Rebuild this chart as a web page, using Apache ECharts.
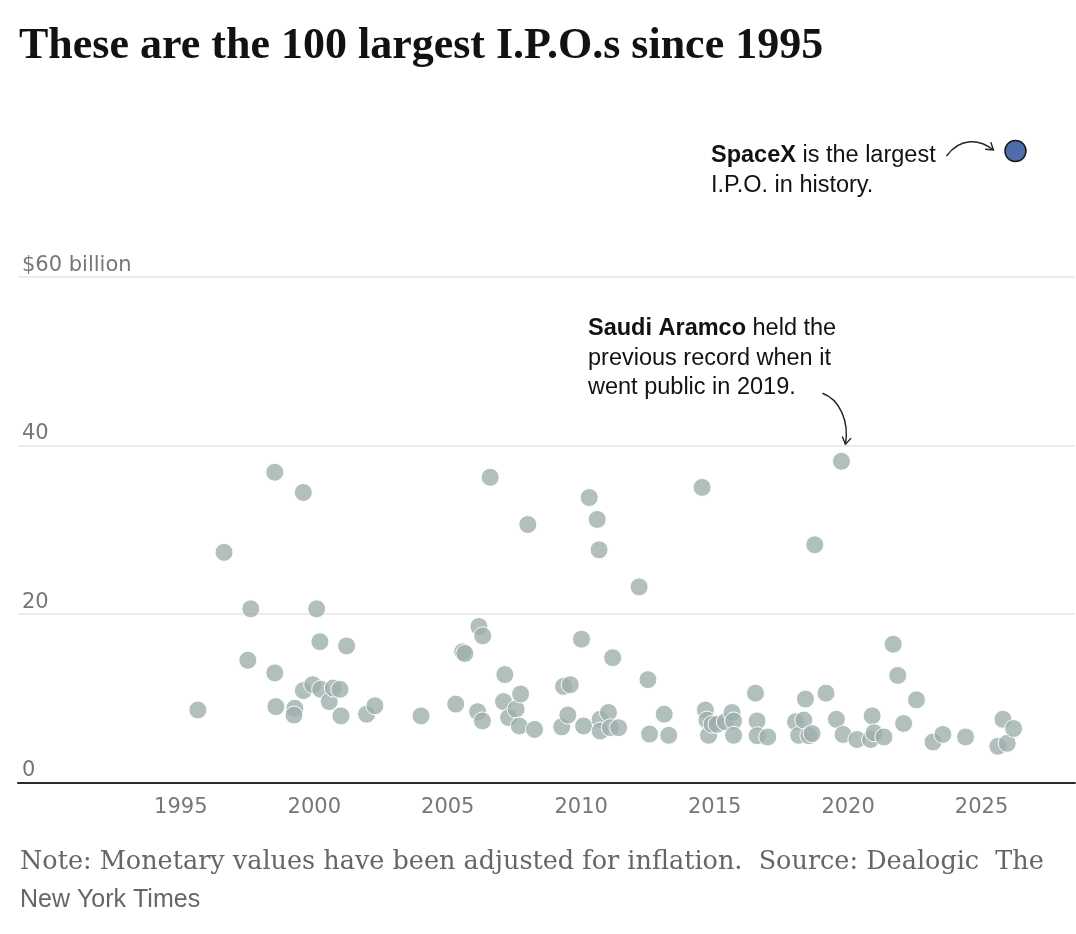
<!DOCTYPE html>
<html><head><meta charset="utf-8">
<script src="https://cdn.jsdelivr.net/npm/echarts@6/dist/echarts.min.js"></script>
<style>html,body{margin:0;padding:0;background:#fff}#c{width:1076px;height:934px}</style>
</head><body><div id="c"></div><script>
// IPO dates (fractional year) and size ($ billions, inflation adjusted)
const ipoYears = [
  1995.64,1996.62,1997.51,1997.62,1998.52,1998.52,1998.56,1999.27,1999.24,1999.59,
  1999.59,1999.94,2000.09,2000.21,2000.24,2000.56,2000.71,2000.96,2001.00,2001.21,
  2001.96,2002.27,2004.00,2005.30,2005.56,2005.64,2006.12,2006.17,2006.30,2006.31,
  2006.59,2007.09,2007.14,2007.28,2007.56,2007.68,2007.73,2008.00,2008.25,2009.27,
  2009.34,2009.50,2009.59,2010.01,2010.09,2010.30,2010.60,2010.67,2010.71,2010.71,
  2011.02,2011.09,2011.18,2011.40,2012.17,2012.50,2012.56,2013.11,2013.28,2014.53,
  2014.65,2014.71,2014.77,2014.90,2015.09,2015.40,2015.65,2015.71,2015.71,2016.53,
  2016.59,2016.59,2016.99,2018.03,2018.15,2018.34,2018.40,2018.53,2018.65,2018.75,
  2019.17,2019.56,2019.75,2019.81,2020.33,2020.84,2020.90,2020.97,2021.34,2021.69,
  2021.86,2022.08,2022.56,2023.18,2023.55,2024.40,2025.61,2025.80,2025.96,2026.20
];
const ipoValues = [
  8.6,27.3,14.5,20.6,36.8,13.0,9.0,8.8,8.0,34.4,
  10.9,11.6,20.6,16.7,11.05,9.6,11.2,11.05,7.9,16.2,
  8.1,9.1,7.9,9.3,15.5,15.3,8.4,18.5,7.3,17.4,
  36.2,9.6,12.8,7.7,8.7,6.7,10.5,30.6,6.3,6.6,
  11.4,8.0,11.6,17.0,6.7,33.8,31.2,27.6,7.5,6.1,
  8.3,6.5,14.8,6.5,23.2,12.2,5.75,8.1,5.6,35.0,
  8.6,7.4,5.6,6.9,6.9,7.2,8.3,7.3,5.6,10.6,
  7.3,5.55,5.4,7.2,5.6,7.4,9.9,5.55,5.8,28.2,
  10.6,7.5,38.1,5.7,5.1,5.1,7.9,5.9,5.4,16.4,
  12.7,7.0,9.8,4.8,5.7,5.4,4.3,7.5,4.65,6.4
];
const spacexYear = [2026.27];
const spacexValue = [74.9];
const aramcoYear = 2019.75, aramcoValue = 38.1;

const xTickValues = [1995, 2000, 2005, 2010, 2015, 2020, 2025];
const yTickValues = [0, 20, 40, 60];
const yTickLabels = ['0', '20', '40', '$60 billion'];

const titleText = 'These are the 100 largest I.P.O.s since 1995';
const noteLine1 = 'Note: Monetary values have been adjusted for inflation.  Source: Dealogic  The';
const noteLine2 = 'New York Times';
const spacexNote = '{b|SpaceX} is the largest\nI.P.O. in history.';
const aramcoNote = '{b|Saudi Aramco} held the\nprevious record when it\nwent public in 2019.';

const chart = echarts.init(document.getElementById('c'));
const sans = '"Liberation Sans", Arial, sans-serif';
const axisFont = '"DejaVu Sans", sans-serif';

chart.setOption({
  animation: false,
  grid: { left: 18, right: 1, top: 108, bottom: 151.5, containLabel: false },
  xAxis: {
    type: 'value', min: 1988.9, max: 2028.5,
    axisLine: { show: true, lineStyle: { color: '#2a2a2a', width: 2 } },
    axisTick: { show: false, customValues: xTickValues },
    splitLine: { show: false },
    axisLabel: {
      customValues: xTickValues, formatter: v => String(v),
      color: '#777', fontSize: 21, fontFamily: axisFont, margin: 15
    }
  },
  yAxis: {
    type: 'value', min: 0, max: 80,
    axisLine: { show: false },
    axisTick: { show: false, customValues: yTickValues },
    splitLine: { show: true, lineStyle: { color: '#e4e4e4', width: 1.5 } },
    axisLabel: {
      inside: true, margin: 4, verticalAlign: 'bottom', padding: [0, 0, 1, 0],
      customValues: yTickValues,
      formatter: v => yTickLabels[yTickValues.indexOf(v)],
      color: '#777', fontSize: 21, fontFamily: axisFont
    }
  },
  series: [
    {
      type: 'scatter', silent: true, symbolSize: 18,
      data: ipoYears.map((y, i) => [y, ipoValues[i]]),
      itemStyle: { color: 'rgba(158,175,172,0.8)', borderColor: 'rgba(255,255,255,0.95)', borderWidth: 1, opacity: 1 }
    },
    {
      type: 'scatter', silent: true, symbolSize: 21, z: 5,
      data: spacexYear.map((y, i) => [y, spacexValue[i]]),
      itemStyle: { color: '#4d6ea8', borderColor: '#1a1a1a', borderWidth: 1.5, opacity: 1 }
    }
  ]
});

function arrow(x1, y1, c1x, c1y, c2x, c2y, x2, y2) {
  const dx = x2 - c2x, dy = y2 - c2y, L = Math.hypot(dx, dy);
  const ux = dx / L, uy = dy / L, px = -uy, py = ux;
  const b = 7, w = 4.5;
  return [
    { type: 'bezierCurve', silent: true, shape: { x1, y1, x2, y2, cpx1: c1x, cpy1: c1y, cpx2: c2x, cpy2: c2y },
      style: { stroke: '#222', lineWidth: 1.4, fill: null } },
    { type: 'polyline', silent: true, shape: { points: [[x2 - b * ux + w * px, y2 - b * uy + w * py], [x2, y2], [x2 - b * ux - w * px, y2 - b * uy - w * py]] },
      style: { stroke: '#222', lineWidth: 1.4, fill: null } }
  ];
}

const sp = chart.convertToPixel({ gridIndex: 0 }, [spacexYear[0], spacexValue[0]]);
const ar = chart.convertToPixel({ gridIndex: 0 }, [aramcoYear, aramcoValue]);

const graphics = [
  { type: 'text', left: 19, top: 25, silent: true,
    style: { text: titleText, fontFamily: '"Liberation Serif", serif', fontWeight: 'bold', fontSize: 44, fill: '#121212' } },
  { type: 'text', left: 20, top: 849, silent: true,
    style: { text: noteLine1, fontFamily: '"DejaVu Serif", serif', fontSize: 25.5, fill: '#666' } },
  { type: 'text', left: 20, top: 888, silent: true,
    style: { text: noteLine2, fontFamily: sans, fontSize: 25, fill: '#666' } },
  { type: 'text', left: 711, top: 141, silent: true,
    style: { text: spacexNote, fontFamily: sans, fontSize: 23.5, lineHeight: 30, fill: '#121212',
      rich: { b: { fontFamily: sans, fontSize: 23.5, fontWeight: 'bold', lineHeight: 30, fill: '#121212' } } } },
  { type: 'text', left: 588, top: 314, silent: true,
    style: { text: aramcoNote, fontFamily: sans, fontSize: 23.5, lineHeight: 29.5, fill: '#121212',
      rich: { b: { fontFamily: sans, fontSize: 23.5, fontWeight: 'bold', lineHeight: 29.5, fill: '#121212' } } } }
].concat(
  arrow(sp[0] - 69, sp[1] + 5, sp[0] - 55, sp[1] - 14, sp[0] - 36, sp[1] - 12, sp[0] - 22, sp[1] - 1),
  arrow(ar[0] - 19, ar[1] - 68, ar[0] - 2, ar[1] - 62, ar[0] + 8, ar[1] - 40, ar[0] + 4, ar[1] - 17)
);
chart.setOption({ graphic: graphics });
</script></body></html>
